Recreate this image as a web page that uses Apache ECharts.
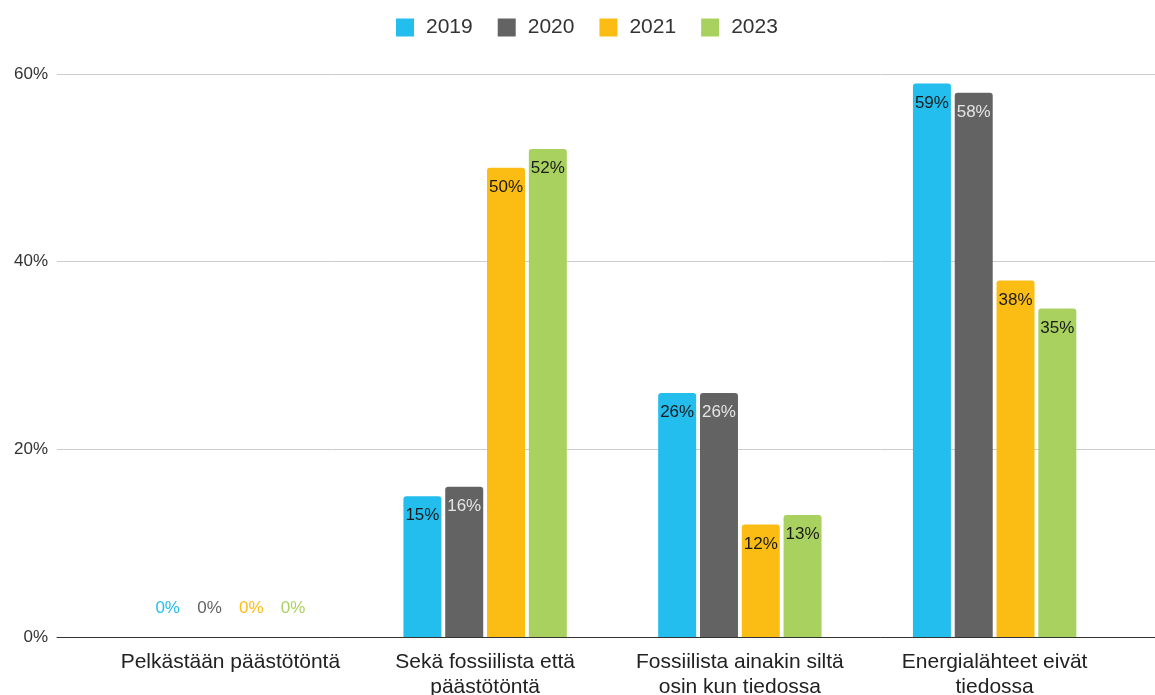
<!DOCTYPE html>
<html>
<head>
<meta charset="utf-8">
<script src="https://cdn.jsdelivr.net/npm/echarts@6/dist/echarts.min.js"></script>
<style>html,body{margin:0;padding:0;background:#fff}#c{width:1155px;height:695px}</style>
</head>
<body>
<div id="c"></div>
<script>
const categories = ["Pelkästään päästötöntä", "Sekä fossiilista että\npäästötöntä", "Fossiilista ainakin siltä\nosin kun tiedossa", "Energialähteet eivät\ntiedossa"];
const seriesNames = ["2019", "2020", "2021", "2023"];
const v2019 = [0, 15, 26, 59];
const v2020 = [0, 16, 26, 58];
const v2021 = [0, 50, 12, 38];
const v2023 = [0, 52, 13, 35];
const yTicks = [0, 20, 40, 60];
const colors = ["#23bdee", "#636363", "#fbbc14", "#a9d160"];
const labelColors = ["#1a1a1a", "#e4e4e4", "#1a1a1a", "#1a1a1a"];
const values = [v2019, v2020, v2021, v2023];

const font = "'Liberation Sans', Arial, sans-serif";
const chart = echarts.init(document.getElementById('c'), null, {renderer: 'canvas'});

const series = seriesNames.map((name, i) => ({
  name: name,
  type: 'bar',
  xAxisIndex: 1,
  yAxisIndex: 1,
  barWidth: 38,
  barGap: '10%',
  itemStyle: {color: colors[i], borderRadius: [3, 3, 0, 0]},
  label: {
    show: true, position: 'insideTop', distance: 11,
    formatter: '{c}%', color: labelColors[i], fontSize: 17, fontFamily: font
  },
  data: values[i].map(v => v === 0 ? {
    value: v,
    label: {position: 'top', distance: 20, color: colors[i]}
  } : v)
}));

chart.setOption({
  animation: false,
  color: colors,
  legend: {
    top: 12, left: 391,
    itemWidth: 18, itemHeight: 18, itemGap: 25,
    icon: 'rect',
    textStyle: {fontSize: 21, color: '#333', fontFamily: font, padding: [0, 0, 0, 7]},
    data: seriesNames
  },
  grid: [
    {left: 57, right: 0, top: 74, bottom: 58, outerBoundsMode: 'none', containLabel: false},
    {left: 103, right: 33, top: 74, bottom: 58, outerBoundsMode: 'none', containLabel: false}
  ],
  xAxis: [
    {gridIndex: 0, type: 'value', min: 0, max: 1,
     axisLine: {show: true, lineStyle: {color: '#333', width: 1}},
     axisTick: {show: false}, axisLabel: {show: false}, splitLine: {show: false}},
    {gridIndex: 1, type: 'category', data: categories,
     axisLine: {show: false}, axisTick: {show: false},
     axisLabel: {fontSize: 21, color: '#222', fontFamily: font, margin: 13, lineHeight: 25, interval: 0}}
  ],
  yAxis: [
    {gridIndex: 0, type: 'value', min: yTicks[0], max: yTicks[yTicks.length - 1], interval: 20,
     axisLine: {show: false}, axisTick: {show: false},
     axisLabel: {formatter: '{value}%', fontSize: 17, color: '#333', fontFamily: font, margin: 9},
     splitLine: {lineStyle: {color: '#cccccc'}}},
    {gridIndex: 1, type: 'value', min: 0, max: 60, show: false, splitLine: {show: false}}
  ],
  series: series
});
</script>
</body>
</html>
